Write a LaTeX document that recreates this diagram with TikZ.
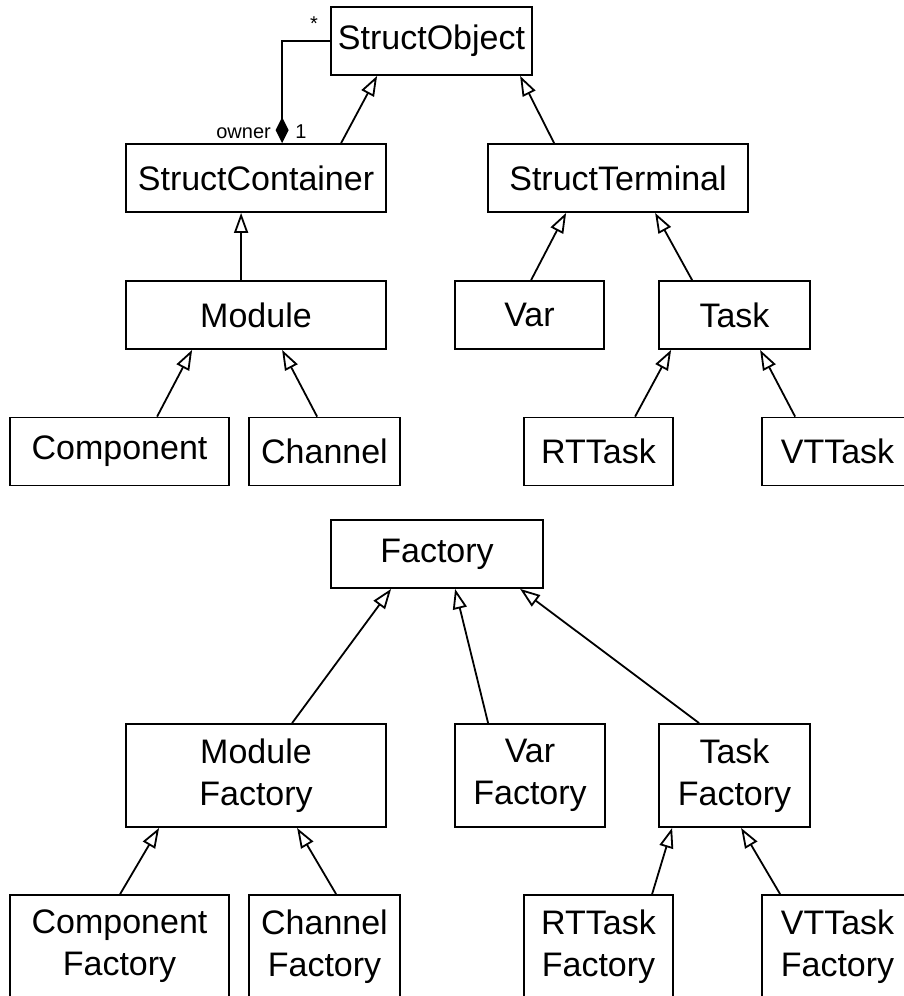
\documentclass[tikz,border=0pt]{standalone}
\usepackage{fontspec}
\setmainfont{Liberation Sans}
\usetikzlibrary{arrows.meta,calc}
\tikzset{
  umlbox/.style={draw, line width=1.8pt, inner sep=0pt, align=center,
    font=\fontsize{34}{42}\selectfont},
  onerow/.style={minimum height=68pt},
  tworow/.style={minimum height=103pt},
  inh/.style={line width=1.8pt, -{Triangle[open,length=20pt,width=14pt,line width=1.8pt]}},
  comp/.style={line width=1.8pt, -{Diamond[length=26pt,width=13pt]}},
  smalltxt/.style={font=\fontsize{20}{23}\selectfont, inner sep=0pt}
}
\begin{document}
\begin{tikzpicture}[x=1pt,y=-1pt]
\useasboundingbox (0,0) rectangle (904,996);
\clip (0,0) rectangle (904,996);
% upper hierarchy
\node[umlbox,onerow,minimum width=201pt] (so) at (431.5,41) {StructObject};
\node[umlbox,onerow,minimum width=260pt] (sc) at (256,178) {StructContainer};
\node[umlbox,onerow,minimum width=260pt] (st) at (618,178) {StructTerminal};
\node[umlbox,onerow,minimum width=260pt] (mo) at (256,315) {Module};
\node[umlbox,onerow,minimum width=149pt] (va) at (529.5,315) {Var};
\node[umlbox,onerow,minimum width=151pt] (ta) at (734.5,315) {Task};
\node[umlbox,onerow,minimum width=219pt] (co) at (119.5,451.5) {Component};
\node[umlbox,onerow,minimum width=151pt] (ch) at (324.5,451.5) {Channel};
\node[umlbox,onerow,minimum width=149pt] (rt) at (598.5,451.5) {RTTask};
\node[umlbox,onerow,minimum width=151pt] (vt) at (837.5,451.5) {VTTask};
% factory hierarchy
\node[umlbox,onerow,minimum width=212pt] (fa) at (437,554) {Factory};
\node[umlbox,tworow,minimum width=260pt] (mf) at (256,775.5) {Module\\Factory};
\node[umlbox,tworow,minimum width=150pt] (vf) at (530,775.5) {Var\\Factory};
\node[umlbox,tworow,minimum width=151pt] (tf) at (734.5,775.5) {Task\\Factory};
\node[umlbox,tworow,minimum width=219pt] (cf) at (119.5,946.5) {Component\\Factory};
\node[umlbox,tworow,minimum width=151pt] (hf) at (324.5,946.5) {Channel\\Factory};
\node[umlbox,tworow,minimum width=149pt] (rf) at (598.5,946.5) {RTTask\\Factory};
\node[umlbox,tworow,minimum width=151pt] (wf) at (837.5,946.5) {VTTask\\Factory};
% composition
\coordinate (cbend) at ($(sc.north west)+(157,0)$);
\draw[comp] (so.west) -| (cbend);
\node[smalltxt] (star) at (314,24) {*};
\node[smalltxt,anchor=base east] (own) at (271,138) {owner};
\node[smalltxt,anchor=base] (one) at (301,138) {1};
% generalizations (upper)
\draw[inh] ([xshift=216pt]sc.north west) -- ([xshift=47pt]so.south west);
\draw[inh] ([xshift=67pt]st.north west) -- ([xshift=190pt]so.south west);
\draw[inh] ([xshift=116pt]mo.north west) -- ([xshift=116pt]sc.south west);
\draw[inh] ([xshift=77pt]va.north west) -- ([xshift=79pt]st.south west);
\draw[inh] ([xshift=34pt]ta.north west) -- ([xshift=168pt]st.south west);
\draw[inh] ([xshift=148pt]co.north west) -- ([xshift=67pt]mo.south west);
\draw[inh] ([xshift=69pt]ch.north west) -- ([xshift=157pt]mo.south west);
\draw[inh] ([xshift=112pt]rt.north west) -- ([xshift=13pt]ta.south west);
\draw[inh] ([xshift=34pt]vt.north west) -- ([xshift=102pt]ta.south west);
% generalizations (factories)
\draw[inh] ([xshift=167pt]mf.north west) -- ([xshift=61pt]fa.south west);
\draw[inh] ([xshift=34pt]vf.north west) -- ([xshift=125pt]fa.south west);
\draw[inh] ([xshift=41pt]tf.north west) -- ([xshift=190pt]fa.south west);
\draw[inh] ([xshift=111pt]cf.north west) -- ([xshift=34pt]mf.south west);
\draw[inh] ([xshift=88pt]hf.north west) -- ([xshift=172pt]mf.south west);
\draw[inh] ([xshift=129pt]rf.north west) -- ([xshift=14pt]tf.south west);
\draw[inh] ([xshift=19pt]wf.north west) -- ([xshift=83pt]tf.south west);
\end{tikzpicture}
\end{document}
